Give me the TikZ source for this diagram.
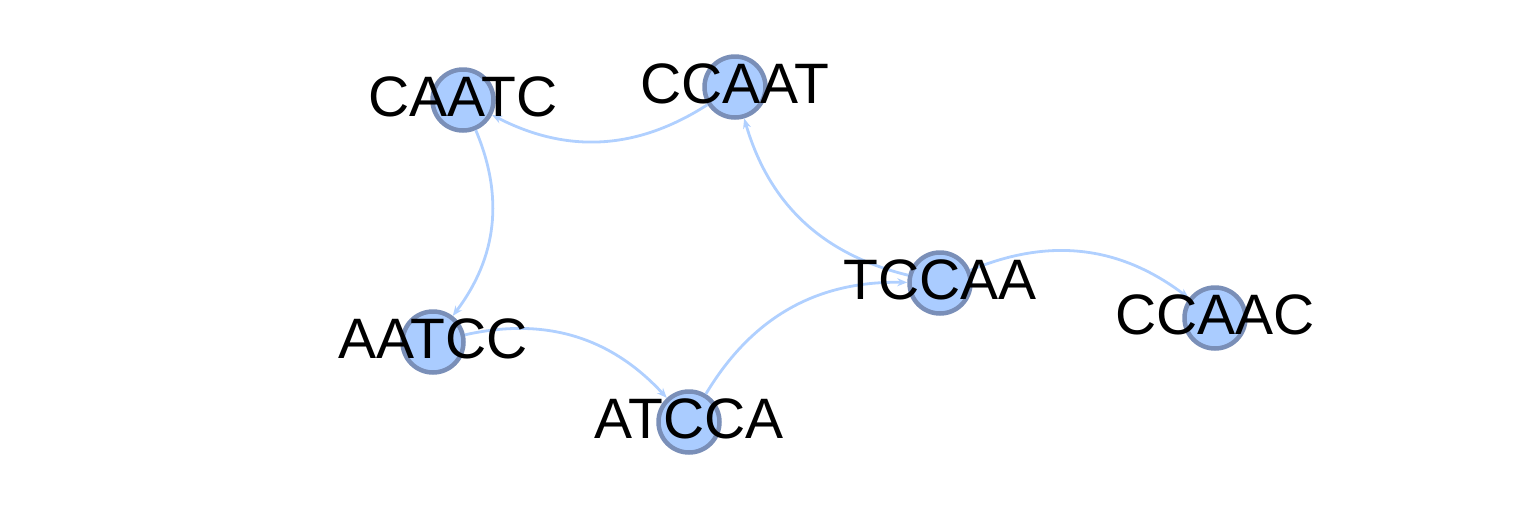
\documentclass[tikz,border=0pt]{standalone}
\usepackage{fontspec}
\setmainfont{Liberation Sans}
\usetikzlibrary{arrows.meta}
\definecolor{nodefill}{HTML}{AACCFF}
\definecolor{nodeborder}{HTML}{7A8FB8}
\definecolor{edgecol}{HTML}{B0D0FF}
\begin{document}
\begin{tikzpicture}[x=1pt,y=-1pt,
  vertex/.style={circle,fill=nodefill,draw=nodeborder,line width=4.5pt,minimum size=61pt,inner sep=0pt},
  lab/.style={font=\fontsize{57}{62}\selectfont,inner sep=0pt,yshift=3pt},
  edge/.style={draw=edgecol,line width=2.8pt,-{Stealth[length=10pt,width=8pt]},bend left=30}]
\useasboundingbox (0,0) rectangle (1532,520);
\node[vertex] (CAATC) at (463,100) {};
\node[vertex] (CCAAT) at (735,87) {};
\node[vertex] (TCCAA) at (940,283) {};
\node[vertex] (CCAAC) at (1215,318) {};
\node[vertex] (AATCC) at (433,342) {};
\node[vertex] (ATCCA) at (689,422) {};
\draw[edge] (CCAAT) to (CAATC);
\draw[edge] (CAATC) to (AATCC);
\draw[edge] (AATCC) to (ATCCA);
\draw[edge] (ATCCA) to (TCCAA);
\draw[edge] (TCCAA) to (CCAAT);
\draw[edge] (TCCAA) to (CCAAC);
\node[lab] (tCAATC) at (CAATC) {CAATC};
\node[lab] (tCCAAT) at (CCAAT) {CCAAT};
\node[lab] (tTCCAA) at (TCCAA) {TCCAA};
\node[lab] (tCCAAC) at (CCAAC) {CCAAC};
\node[lab] (tAATCC) at (AATCC) {AATCC};
\node[lab] (tATCCA) at (ATCCA) {ATCCA};
\end{tikzpicture}
\end{document}
